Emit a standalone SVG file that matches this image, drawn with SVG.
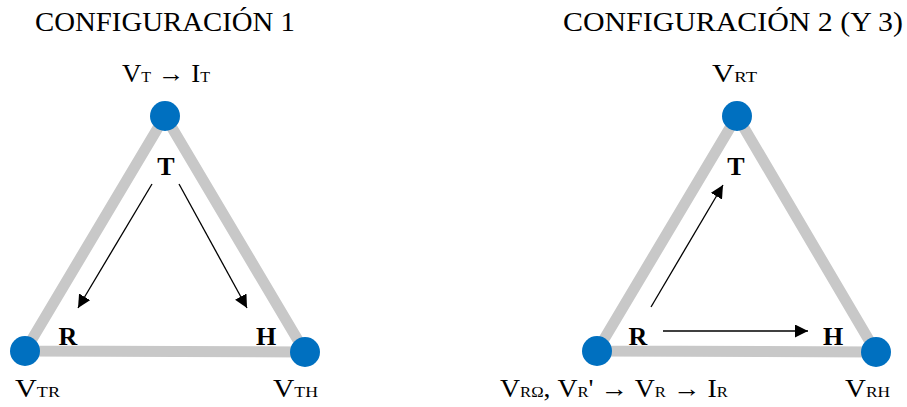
<svg xmlns="http://www.w3.org/2000/svg" width="907" height="407" viewBox="0 0 907 407">
<style>
text{font-family:"Liberation Serif","Times New Roman",serif;fill:#000}
.title{font-size:28px}
.lab{font-size:25px}
.sub{font-size:15px}
.bold{font-size:26px;font-weight:bold}
.edge{stroke:#c8c8c8;stroke-width:11;fill:none;stroke-linejoin:round}
.node{fill:#0070c0}
.arr{stroke:#000;stroke-width:1.3;fill:none;marker-end:url(#ah)}
</style>
<defs>
<marker id="ah" viewBox="0 0 10 10" refX="10" refY="5" markerWidth="13" markerHeight="13" markerUnits="userSpaceOnUse" orient="auto">
<path d="M0,0 L10,5 L0,10 z" fill="#000"/>
</marker>
</defs>
<text class="title" x="35" y="31" textLength="260" lengthAdjust="spacingAndGlyphs">CONFIGURACIÓN 1</text>
<text class="title" x="563" y="31" textLength="340" lengthAdjust="spacingAndGlyphs">CONFIGURACIÓN 2 (Y 3)</text>
<g id="edges">
<polygon class="edge" points="165,116 25,351 305,352"/>
<polygon class="edge" points="737,116 597,351 876,352"/>
</g>
<g id="n-top1"><circle class="node" cx="165" cy="116" r="15"/><text class="lab" x="122" y="82" textLength="88" lengthAdjust="spacingAndGlyphs">V<tspan class="sub">T</tspan> → I<tspan class="sub">T</tspan></text></g>
<g id="n-left1"><circle class="node" cx="25" cy="351" r="15"/><text class="lab" x="15" y="397" textLength="45" lengthAdjust="spacingAndGlyphs">V<tspan class="sub">TR</tspan></text></g>
<g id="n-right1"><circle class="node" cx="305" cy="352" r="15"/><text class="lab" x="273" y="397" textLength="45" lengthAdjust="spacingAndGlyphs">V<tspan class="sub">TH</tspan></text></g>
<g id="n-top2"><circle class="node" cx="737" cy="116" r="15"/><text class="lab" x="712" y="82" textLength="45" lengthAdjust="spacingAndGlyphs">V<tspan class="sub">RT</tspan></text></g>
<g id="n-left2"><circle class="node" cx="597" cy="351" r="15"/><text class="lab" x="500" y="397" textLength="228" lengthAdjust="spacingAndGlyphs">V<tspan class="sub">RΩ</tspan>, V<tspan class="sub">R</tspan>' → V<tspan class="sub">R</tspan> → I<tspan class="sub">R</tspan></text></g>
<g id="n-right2"><circle class="node" cx="876" cy="352" r="15"/><text class="lab" x="845" y="397" textLength="45" lengthAdjust="spacingAndGlyphs">V<tspan class="sub">RH</tspan></text></g>
<g id="labels">
<text class="bold" x="166" y="175" text-anchor="middle">T</text>
<text class="bold" x="68" y="345" text-anchor="middle">R</text>
<text class="bold" x="266" y="345" text-anchor="middle">H</text>
<text class="bold" x="736" y="175" text-anchor="middle">T</text>
<text class="bold" x="638" y="345" text-anchor="middle">R</text>
<text class="bold" x="833" y="345" text-anchor="middle">H</text>
</g>
<g id="connectors">
<line class="arr" x1="152" y1="184" x2="78" y2="308"/>
<line class="arr" x1="179" y1="184" x2="247" y2="308"/>
<line class="arr" x1="651" y1="307" x2="723" y2="185"/>
<line class="arr" x1="663" y1="331" x2="808" y2="331"/>
</g>
</svg>
